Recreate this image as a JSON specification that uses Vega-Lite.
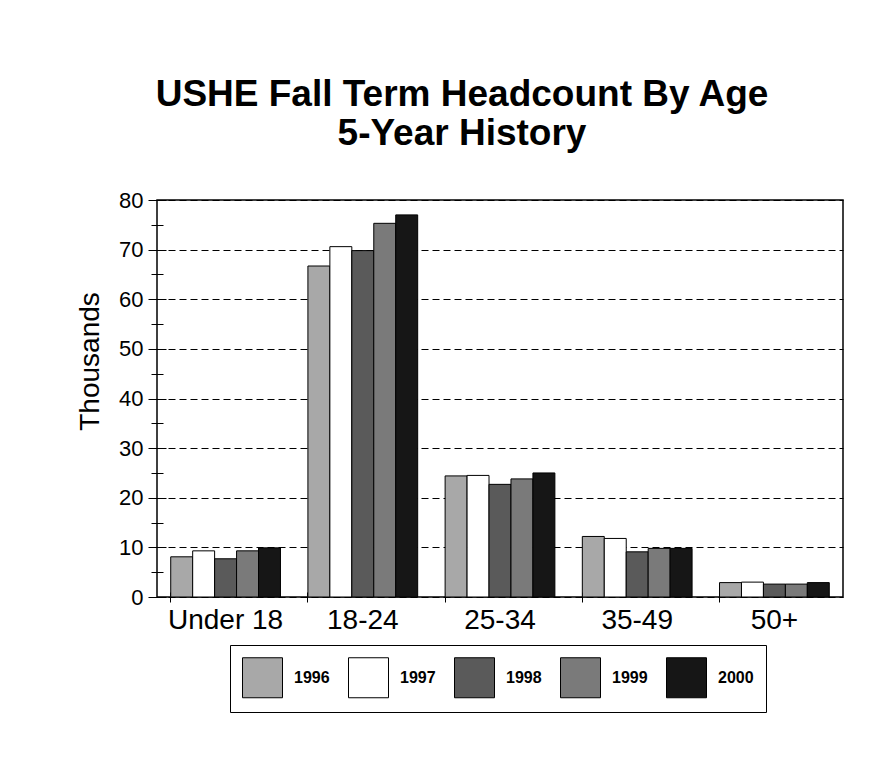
{
  "$schema": "https://vega.github.io/schema/vega-lite/v6.json",
  "width": 686,
  "height": 397,
  "autosize": {"type": "none"},
  "padding": {"left": 157, "top": 200, "right": 52, "bottom": 183},
  "background": "white",
  "title": {
    "text": ["USHE Fall Term Headcount By Age", "5-Year History"],
    "font": "Liberation Sans",
    "fontSize": 37,
    "fontWeight": "bold",
    "color": "black",
    "anchor": "middle",
    "dx": -38,
    "offset": 36,
    "lineHeight": 39
  },
  "data": {
    "values": [
      {"age": "Under 18", "year": "1996", "value": 8.1},
      {"age": "Under 18", "year": "1997", "value": 9.3},
      {"age": "Under 18", "year": "1998", "value": 7.7},
      {"age": "Under 18", "year": "1999", "value": 9.3},
      {"age": "Under 18", "year": "2000", "value": 9.9},
      {"age": "18-24", "year": "1996", "value": 66.7},
      {"age": "18-24", "year": "1997", "value": 70.6},
      {"age": "18-24", "year": "1998", "value": 69.8},
      {"age": "18-24", "year": "1999", "value": 75.3},
      {"age": "18-24", "year": "2000", "value": 77.0},
      {"age": "25-34", "year": "1996", "value": 24.4},
      {"age": "25-34", "year": "1997", "value": 24.5},
      {"age": "25-34", "year": "1998", "value": 22.7},
      {"age": "25-34", "year": "1999", "value": 23.8},
      {"age": "25-34", "year": "2000", "value": 25.0},
      {"age": "35-49", "year": "1996", "value": 12.2},
      {"age": "35-49", "year": "1997", "value": 11.8},
      {"age": "35-49", "year": "1998", "value": 9.1},
      {"age": "35-49", "year": "1999", "value": 9.8},
      {"age": "35-49", "year": "2000", "value": 9.8},
      {"age": "50+", "year": "1996", "value": 2.9},
      {"age": "50+", "year": "1997", "value": 3.0},
      {"age": "50+", "year": "1998", "value": 2.6},
      {"age": "50+", "year": "1999", "value": 2.6},
      {"age": "50+", "year": "2000", "value": 2.9}
    ]
  },
  "layer": [
    {
      "mark": {"type": "bar", "stroke": "black", "strokeWidth": 1, "fillOpacity": 1},
      "encoding": {
        "x": {
          "field": "age", "type": "nominal",
          "sort": ["Under 18", "18-24", "25-34", "35-49", "50+"],
          "scale": {"paddingInner": 0.2, "paddingOuter": 0.1},
          "axis": {
            "title": null, "labelAngle": 0, "labelFontSize": 28, "labelFont": "Liberation Sans",
            "labelColor": "black", "labelPadding": 4, "domain": false,
            "ticks": true, "bandPosition": 0, "tickSize": 10, "offset": -5,
            "tickColor": "black", "tickWidth": 1
          }
        },
        "xOffset": {
          "field": "year", "type": "nominal",
          "scale": {"paddingInner": 0, "paddingOuter": 0}
        },
        "y": {
          "field": "value", "type": "quantitative",
          "scale": {"domain": [0, 80], "nice": false},
          "axis": {
            "title": "Thousands", "values": [0, 10, 20, 30, 40, 50, 60, 70, 80],
            "tickSize": 18, "offset": -9, "domain": false,
            "labelFontSize": 22, "labelFont": "Liberation Sans", "labelColor": "black", "labelPadding": 5,
            "tickColor": "black", "tickWidth": 1,
            "grid": true, "gridDash": [7, 4], "gridColor": "black", "gridWidth": 1, "gridOpacity": 1,
            "titleFont": "Liberation Sans", "titleFontSize": 28, "titleFontWeight": "normal", "titleColor": "black",
            "titleAngle": 270, "titleAlign": "center", "titleBaseline": "middle",
            "titleX": -76, "titleY": 161
          }
        },
        "fill": {
          "field": "year", "type": "nominal",
          "scale": {"domain": ["1996", "1997", "1998", "1999", "2000"], "range": ["#a8a8a8", "#ffffff", "#5a5a5a", "#7a7a7a", "#161616"]},
          "legend": {
            "orient": "none", "legendX": 73, "legendY": 445, "direction": "horizontal",
            "title": null, "symbolType": "square", "symbolSize": 1600,
            "symbolStrokeColor": "black", "symbolStrokeWidth": 1, "symbolOpacity": 1,
            "labelFontSize": 16, "labelFontWeight": "bold", "labelFont": "Liberation Sans", "labelColor": "black",
            "labelOffset": 11, "columnPadding": 16, "padding": 12,
            "strokeColor": "black", "fillColor": "white"
          }
        }
      }
    },
    {
      "mark": {"type": "bar", "opacity": 0},
      "encoding": {
        "x": {"field": "age", "type": "nominal", "sort": ["Under 18", "18-24", "25-34", "35-49", "50+"]},
        "xOffset": {"field": "year", "type": "nominal"},
        "y": {
          "field": "value", "type": "quantitative",
          "axis": {
            "orient": "left", "title": null, "labels": false, "domain": false, "grid": false,
            "values": [5, 15, 25, 35, 45, 55, 65, 75],
            "tickSize": 12, "offset": -6, "tickColor": "black", "tickWidth": 1
          }
        }
      }
    }
  ],
  "resolve": {"axis": {"y": "independent"}},
  "config": {
    "view": {"stroke": "black", "strokeWidth": 1.5},
    "font": "Liberation Sans"
  }
}
